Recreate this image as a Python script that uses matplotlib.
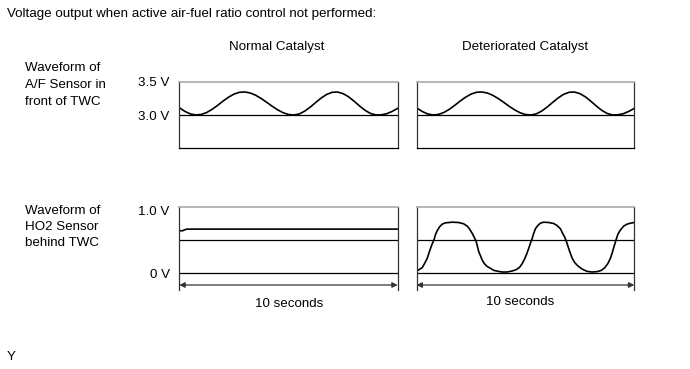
import matplotlib
matplotlib.use("Agg")
import matplotlib.pyplot as plt

plt.rcParams['font.family'] = ['Liberation Sans', 'DejaVu Sans']

# A/F sensor waveform (same for both catalysts), sampled every 0.25 s
af_time = [i * 0.25 for i in range(41)]
af_volts = [3.11, 3.056, 3.017, 3.001, 3.008, 3.037, 3.085, 3.145, 3.21, 3.269,
            3.316, 3.344, 3.349, 3.333, 3.299, 3.25, 3.193, 3.133, 3.079, 3.035,
            3.008, 3.0, 3.017, 3.06, 3.121, 3.191, 3.258, 3.312, 3.344, 3.348,
            3.324, 3.276, 3.21, 3.138, 3.072, 3.024, 3.001, 3.003, 3.02, 3.055, 3.10]

# HO2 sensor, normal catalyst
ho2_norm_time = [0, 0.15, 0.25, 0.35, 10]
ho2_norm_volts = [0.64, 0.64, 0.655, 0.665, 0.665]

# HO2 sensor, deteriorated catalyst
ho2_det_time = [0.00, 0.11, 0.26, 0.38, 0.49, 0.57, 0.64, 0.72, 0.80, 0.87, 0.95, 1.06,
                1.18, 1.33, 1.64, 1.94, 2.17, 2.33, 2.43, 2.56, 2.65, 2.74, 2.80, 2.86,
                2.94, 3.01, 3.12, 3.24, 3.40, 3.55, 3.75, 3.93, 4.16, 4.39, 4.57, 4.73,
                4.85, 4.96, 5.05, 5.15, 5.23, 5.31, 5.38, 5.46, 5.57, 5.69, 5.84, 6.07,
                6.30, 6.45, 6.61, 6.71, 6.81, 6.88, 6.96, 7.04, 7.14, 7.26, 7.40, 7.60,
                7.83, 8.06, 8.29, 8.49, 8.64, 8.78, 8.90, 8.99, 9.07, 9.16, 9.25, 9.36,
                9.51, 9.67, 9.82, 10.0]
ho2_det_volts = [0.03, 0.05, 0.08, 0.15, 0.22, 0.30, 0.37, 0.44, 0.50, 0.58, 0.64, 0.70,
                 0.74, 0.76, 0.77, 0.765, 0.745, 0.71, 0.67, 0.60, 0.54, 0.48, 0.40, 0.32,
                 0.26, 0.20, 0.14, 0.10, 0.07, 0.04, 0.025, 0.015, 0.015, 0.03, 0.05, 0.085,
                 0.14, 0.21, 0.28, 0.37, 0.45, 0.52, 0.60, 0.67, 0.72, 0.755, 0.77, 0.765,
                 0.75, 0.72, 0.67, 0.60, 0.54, 0.48, 0.40, 0.32, 0.23, 0.16, 0.11, 0.06,
                 0.025, 0.015, 0.02, 0.04, 0.08, 0.14, 0.22, 0.31, 0.40, 0.50, 0.59, 0.65,
                 0.71, 0.74, 0.755, 0.765]

W, H = 690, 369
fig = plt.figure(figsize=(W / 100, H / 100), dpi=100)
fig.patch.set_facecolor('white')

fs = 9.6

def px_axes(x0, y0, x1, y1):
    return fig.add_axes([x0 / W, 1 - y1 / H, (x1 - x0) / W, (y1 - y0) / H])

def px_text(x, y, s, **kw):
    fig.text(x / W, 1 - y / H, s, va='center', fontsize=fs, **kw)

def style(ax, bottom=True):
    for s in ['left', 'right']:
        ax.spines[s].set_color('#333333')
        ax.spines[s].set_linewidth(0.9)
    ax.spines['top'].set_color('#aaaaaa')
    ax.spines['top'].set_linewidth(1.2)
    ax.spines['bottom'].set_color('black')
    ax.spines['bottom'].set_linewidth(0.9)
    ax.spines['bottom'].set_visible(bottom)
    ax.set_xlim(0, 10)
    ax.set_xticks([])
    ax.tick_params(axis='y', length=0, pad=7, labelsize=fs)

cols = [(179.3, 397.7), (416.5, 634.3)]

# top row: A/F sensor
for i, (x0, x1) in enumerate(cols):
    ax = px_axes(x0, 82, x1, 148)
    style(ax)
    ax.set_ylim(2.5, 3.5)
    ax.axhline(3.0, color='black', lw=0.9)
    ax.plot(af_time, af_volts, color='black', lw=1.2)
    if i == 0:
        ax.set_yticks([3.0, 3.5], labels=['3.0 V', '3.5 V'])
    else:
        ax.set_yticks([])

# bottom row: HO2 sensor
series = [(ho2_norm_time, ho2_norm_volts), (ho2_det_time, ho2_det_volts)]
for i, ((x0, x1), (t, v)) in enumerate(zip(cols, series)):
    ax = px_axes(x0, 207, x1, 290)
    style(ax, bottom=False)
    ax.set_ylim(-17 / 66, 1.0)
    ax.axhline(0.0, color='black', lw=0.9)
    ax.axhline(0.5, color='black', lw=0.9)
    ax.plot(t, v, color='black', lw=1.2)
    ax.annotate('', xy=(10, -12 / 66), xytext=(0, -12 / 66),
                arrowprops=dict(arrowstyle='<|-|>', color='#333333', lw=0.9,
                                mutation_scale=8, shrinkA=0, shrinkB=0))
    if i == 0:
        ax.set_yticks([0.0, 0.95], labels=['0 V', '1.0 V'])
    else:
        ax.set_yticks([])

px_text(289, 304, '10 seconds', ha='center')
px_text(520, 302, '10 seconds', ha='center')
px_text(7, 14, 'Voltage output when active air-fuel ratio control not performed:', ha='left')
px_text(277, 47, 'Normal Catalyst', ha='center')
px_text(525, 47, 'Deteriorated Catalyst', ha='center')
for y, s in zip([68, 85, 102], ['Waveform of', 'A/F Sensor in', 'front of TWC']):
    px_text(25, y, s, ha='left')
for y, s in zip([211, 227, 243], ['Waveform of', 'HO2 Sensor', 'behind TWC']):
    px_text(25, y, s, ha='left')
px_text(7, 357, 'Y', ha='left')

fig.savefig('out.png', dpi=100, facecolor='white')
